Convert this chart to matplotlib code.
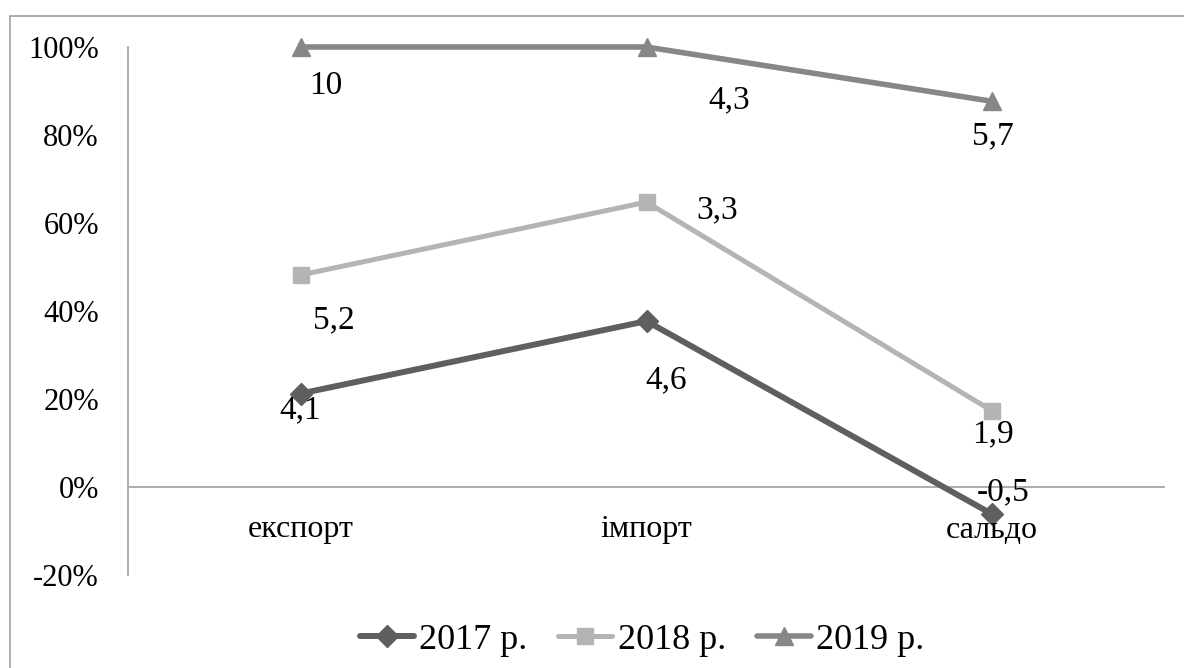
import matplotlib.pyplot as plt
import numpy as np
from matplotlib.patches import Rectangle

plt.rcParams['font.family'] = ['Liberation Serif', 'DejaVu Serif']

categories = ['експорт', 'імпорт', 'сальдо']
years = ['2017 р.', '2018 р.', '2019 р.']
v2017 = [4.1, 4.6, -0.5]
v2018 = [5.2, 3.3, 1.9]
v2019 = [10, 4.3, 5.7]
yticks = [-0.2, 0.0, 0.2, 0.4, 0.6, 0.8, 1.0]

# styles / label offsets (pixels) - layout only
colors = ['#5f5f5f', '#b4b4b4', '#878787']
markers = ['D', 's', '^']
msizes = [11, 12, 13]
lwidths = [4.3, 3.6, 4.0]
label_offsets = [
    [(-1, -17), (20, -59), (11, 22)],
    [(33, -45), (71, -8), (1, -23)],
    [(25, -39), (83, -53), (1, -35)],
]

# 100% stacked line (Excel divides by the sum of absolute values)
data = np.array([v2017, v2018, v2019])
totals = np.abs(data).sum(axis=0)
stacked = np.cumsum(data, axis=0) / totals

fig = plt.figure(figsize=(11.84, 6.68), dpi=100)
ax = fig.add_axes([128 / 1184, 1 - 575 / 668, (1165 - 128) / 1184, (575 - 47) / 668])

# outer chart border
fig.patches.append(Rectangle((10 / 1184, -0.1), 1.2, (1 - 16 / 668) + 0.1,
                             transform=fig.transFigure, fill=False,
                             edgecolor='#a0a0a0', linewidth=1.2))

x = np.arange(len(categories))
for i in range(len(years)):
    ax.plot(x, stacked[i], color=colors[i], marker=markers[i], markersize=msizes[i],
            linewidth=lwidths[i], label=years[i], clip_on=False,
            solid_capstyle='round', zorder=3)
    for j in range(len(categories)):
        ax.annotate(f'{data[i, j]:g}'.replace('.', ','), (x[j], stacked[i, j]),
                    xytext=label_offsets[i][j], textcoords='offset pixels',
                    ha='center', va='center', fontsize=24, color='black', zorder=4)

ax.axhline(0, color='#a6a6a6', linewidth=1.3, zorder=1)
for j, c in enumerate(categories):
    ax.annotate(c, (x[j], 0), xytext=(0, -43), textcoords='offset pixels',
                ha='center', va='center', fontsize=23)

ax.set_xlim(-0.5, 2.5)
ax.set_ylim(-0.2, 1.0)
ax.set_xticks([])
ax.set_yticks(yticks)
ax.set_yticklabels([f'{int(round(t * 100))}%' for t in yticks], fontsize=22)
ax.tick_params(axis='y', length=0, pad=21)
for s in ['top', 'right', 'bottom']:
    ax.spines[s].set_visible(False)
ax.spines['left'].set_color('#a6a6a6')
ax.spines['left'].set_linewidth(1.3)

leg = fig.legend(loc='center', bbox_to_anchor=(642 / 1184, 1 - 640 / 668), ncol=3,
                 frameon=False, fontsize=26, handlelength=1.5, handletextpad=0.15,
                 columnspacing=0.85)

fig.savefig('out.png', dpi=100)
